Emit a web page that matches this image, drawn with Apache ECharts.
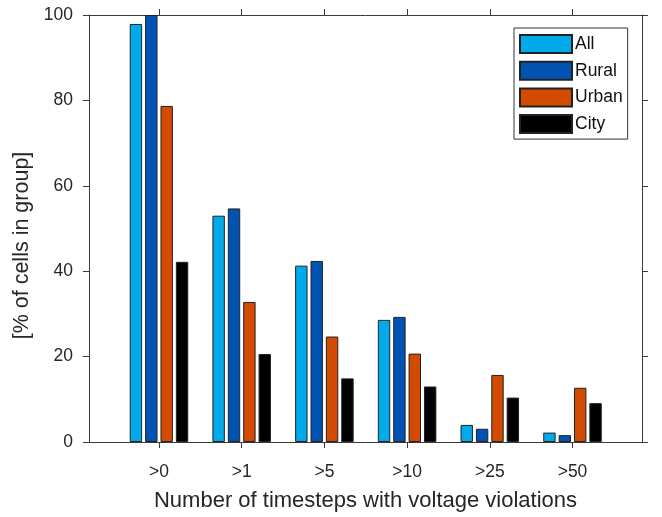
<!DOCTYPE html>
<html><head><meta charset="utf-8">
<script src="https://cdn.jsdelivr.net/npm/echarts@6/dist/echarts.min.js"></script>
<style>html,body{margin:0;padding:0;background:#fff}#c{width:662px;height:517px}</style>
</head><body><div id="c"></div>
<script>
const categories = ['>0', '>1', '>5', '>10', '>25', '>50'];
const seriesNames = ['All', 'Rural', 'Urban', 'City'];
const allValues = [97.9, 53.0, 41.3, 28.6, 4.0, 2.2];
const ruralValues = [100, 54.7, 42.4, 29.3, 3.1, 1.6];
const urbanValues = [78.7, 32.8, 24.7, 20.7, 15.7, 12.7];
const cityValues = [42.2, 20.6, 14.9, 13.0, 10.4, 9.1];
const yMin = 0, yMax = 100, yStep = 20;
const xTitle = 'Number of timesteps with voltage violations';
const yTitle = '[% of cells in group]';

const colors = ['#00AAEB', '#0053B3', '#D24B00', '#000000'];
const values = [allValues, ruralValues, urbanValues, cityValues];
const FONT = 'Liberation Sans, Arial, Helvetica, sans-serif';
const axisCol = '#3a3a3a';
const textCol = '#262626';

const frameX = {left: 89, top: 15, width: 553, height: 427};
const band = 82.7;
const barGrid = {left: 159 - band / 2, top: 15, width: band * categories.length, height: 427};

const lineStyle = {color: axisCol, width: 1};

const chart = echarts.init(document.getElementById('c'), null, {renderer: 'canvas'});
chart.setOption({
  animation: false,
  backgroundColor: '#fff',
  grid: [
    Object.assign({containLabel: false}, frameX),
    Object.assign({containLabel: false}, barGrid)
  ],
  legend: {
    orient: 'vertical',
    left: 514, top: 28,
    padding: [6, 5, 5, 5],
    itemWidth: 52, itemHeight: 18, itemGap: 6.7,
    borderColor: '#333', borderWidth: 1, borderRadius: 0,
    backgroundColor: '#fff',
    icon: 'rect',
    textStyle: {fontFamily: FONT, fontSize: 17.5, color: '#111', padding: [0, 0, 0, -2]},
    data: seriesNames
  },
  xAxis: [
    {gridIndex: 0, type: 'value', min: 0, max: 1, position: 'bottom',
     axisLine: {show: true, onZero: false, lineStyle: lineStyle},
     axisTick: {show: false}, axisLabel: {show: false}, splitLine: {show: false},
     name: xTitle, nameLocation: 'middle', nameGap: 48,
     nameTextStyle: {fontFamily: FONT, fontSize: 22, color: textCol}},
    {gridIndex: 0, type: 'value', min: 0, max: 1, position: 'top',
     axisLine: {show: true, onZero: false, lineStyle: lineStyle},
     axisTick: {show: false}, axisLabel: {show: false}, splitLine: {show: false}},
    {gridIndex: 1, type: 'category', data: categories, position: 'bottom',
     axisLine: {show: false, onZero: false},
     axisTick: {show: true, alignWithLabel: true, inside: false, length: 6, lineStyle: lineStyle},
     axisLabel: {show: true, margin: 21, fontFamily: FONT, fontSize: 17.5, color: textCol, interval: 0},
     splitLine: {show: false}},
    {gridIndex: 1, type: 'category', data: categories, position: 'top',
     axisLine: {show: false, onZero: false},
     axisTick: {show: true, alignWithLabel: true, inside: false, length: 6, lineStyle: lineStyle},
     axisLabel: {show: false}, splitLine: {show: false}}
  ],
  yAxis: [
    {gridIndex: 0, type: 'value', min: yMin, max: yMax, interval: yStep, position: 'left',
     axisLine: {show: true, onZero: false, lineStyle: lineStyle},
     axisTick: {show: true, inside: false, length: 6, lineStyle: lineStyle},
     axisLabel: {show: true, margin: 16, fontFamily: FONT, fontSize: 17.5, color: textCol},
     splitLine: {show: false},
     name: yTitle, nameLocation: 'middle', nameGap: 50, nameRotate: 90,
     nameTextStyle: {fontFamily: FONT, fontSize: 21.5, color: textCol, padding: [0, 34, 0, 0]}},
    {gridIndex: 0, type: 'value', min: yMin, max: yMax, interval: yStep, position: 'right',
     axisLine: {show: true, onZero: false, lineStyle: lineStyle},
     axisTick: {show: true, inside: false, length: 6, lineStyle: lineStyle},
     axisLabel: {show: false}, splitLine: {show: false}},
    {gridIndex: 1, type: 'value', min: yMin, max: yMax, interval: yStep,
     show: false, splitLine: {show: false}}
  ],
  series: seriesNames.map((n, i) => ({
    name: n, type: 'bar', xAxisIndex: 2, yAxisIndex: 2,
    data: values[i],
    barWidth: 12.4, barGap: '24%',
    itemStyle: {color: colors[i], borderColor: '#222', borderWidth: 1},
    emphasis: {disabled: true}
  }))
});
</script></body></html>
